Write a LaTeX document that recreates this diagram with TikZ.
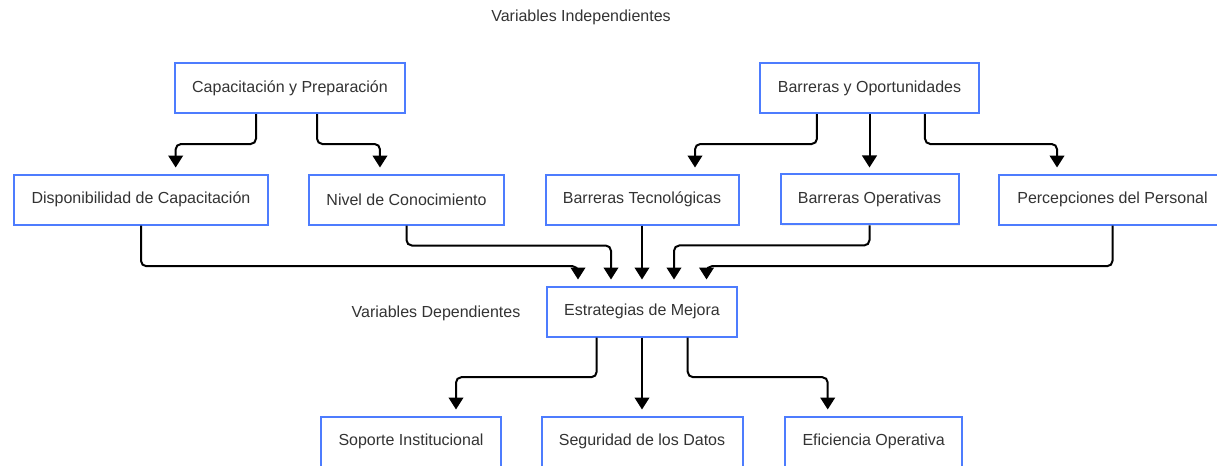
\documentclass[tikz,border=0pt]{standalone}
\usepackage{fontspec}
\setmainfont{Liberation Sans}
\usepackage{xcolor}
\usetikzlibrary{shapes,arrows.meta,positioning,shadows}

\definecolor{boxblue}{RGB}{77,124,254}
\definecolor{labelgray}{RGB}{51,51,51}

\tikzset{
  box/.style={draw=boxblue, line width=1.5pt, rectangle, fill=white, text=labelgray,
    minimum height=37.5pt, inner sep=0pt, font=\fontsize{12pt}{14pt}\selectfont,
    drop shadow={opacity=0.12, shadow xshift=0.8pt, shadow yshift=-0.8pt}},
  link/.style={draw=black, line width=1.5pt, rounded corners=4pt,
    -{Triangle[width=11pt,length=9pt]}, shorten >=4.5pt},
  caption/.style={text=labelgray, font=\fontsize{12pt}{14pt}\selectfont}
}

\begin{document}
\begin{tikzpicture}[x=0.75pt, y=-0.75pt]
\useasboundingbox (0,0) rectangle (1217,465);
\clip (0,0) rectangle (1217,465);

% independent variables
\node (indep) [caption] at (581,17) {Variables Independientes};
\node (cap) [box, minimum width=172.5pt] at (290,88) {Capacitación y Preparación};
\node (bar) [box, minimum width=164pt] at (869.5,88) {Barreras y Oportunidades};
\node (disp) [box, minimum width=190pt] at (141,199.5) {Disponibilidad de Capacitación};
\node (niv) [box, minimum width=146pt] at (406.5,199.5) {Nivel de Conocimiento};
\node (bope) [box, minimum width=133.5pt, below of=bar, node distance=83.6pt] {Barreras Operativas};
\node (perc) [box, minimum width=170pt] at (1112.5,199.5) {Percepciones del Personal};

% dependent variables
\node (dep) [caption] at (436,313) {Variables Dependientes};
\node (est) [box, minimum width=142.5pt] at (642,311.5) {Estrategias de Mejora};
\node (btec) [box, minimum width=144.75pt, above of=est, node distance=84pt] {Barreras Tecnológicas};
\node (seg) [box, minimum width=150.75pt, below of=est, node distance=97.5pt] {Seguridad de los Datos};
\node (sop) [box, minimum width=135pt] at (411,441.5) {Soporte Institucional};
\node (efi) [box, minimum width=132.75pt] at (873.7,441.5) {Eficiencia Operativa};

\draw[link] ([xshift=-25.5pt]cap.south) -- ++(0,30) -| ([xshift=26pt]disp.north);
\draw[link] ([xshift=20.25pt]cap.south) -- ++(0,30) -| ([xshift=-19.9pt]niv.north);
\draw[link] ([xshift=-39.4pt]bar.south) -- ++(0,30) -| ([xshift=39.75pt]btec.north);
\draw[link] (bar) -- (bope);
\draw[link] ([xshift=41.6pt]bar.south) -- ++(0,30) -| ([xshift=-41.6pt]perc.north);

\draw[link] (disp.south) -- ++(0,40.7) -| ([xshift=-48pt]est.north);
\draw[link] (niv.south) -- ++(0,20) -| ([xshift=-23.25pt]est.north);
\draw[link] (btec) -- (est);
\draw[link] (bope.south) -- ++(0,20) -| ([xshift=24pt]est.north);
\draw[link] (perc.south) -- ++(0,40.7) -| ([xshift=48.4pt]est.north);

\draw[link] ([xshift=-34pt]est.south) -- ++(0,39.7) -| ([xshift=33.75pt]sop.north);
\draw[link] (est) -- (seg);
\draw[link] ([xshift=34.3pt]est.south) -- ++(0,39.7) -| ([xshift=-34.5pt]efi.north);
\end{tikzpicture}
\end{document}
